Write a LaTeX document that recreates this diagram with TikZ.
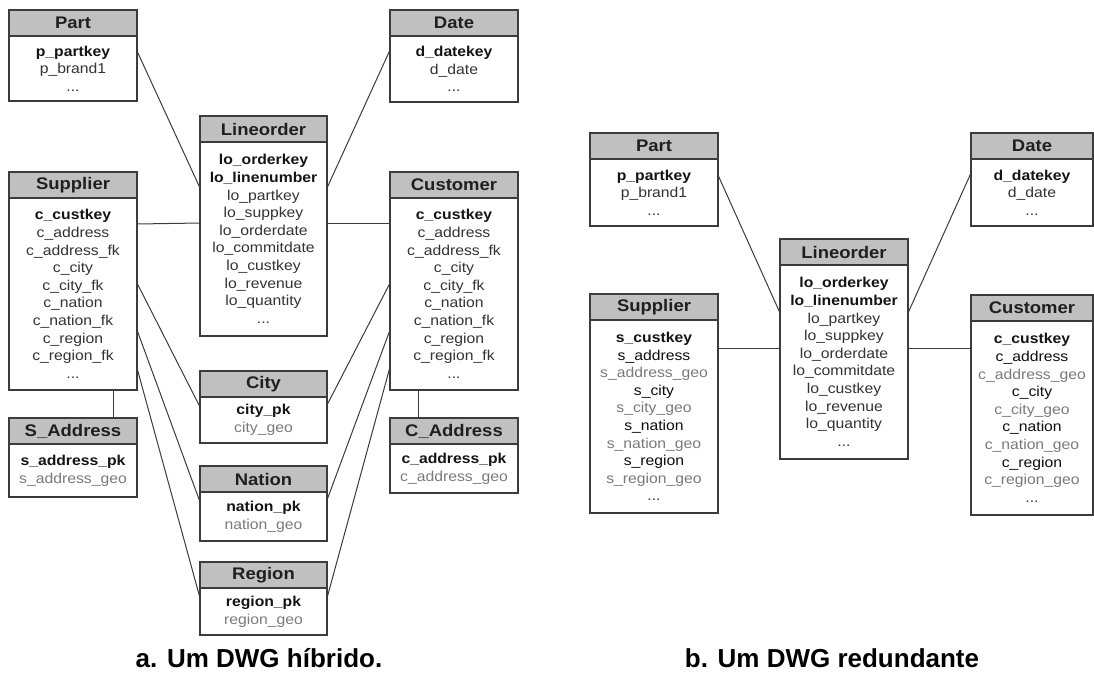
\documentclass[tikz,border=0pt]{standalone}
\usepackage{fontspec}
\setmainfont[FakeStretch=1.1]{Liberation Sans}
\newfontfamily\capfont{Liberation Sans}
\usetikzlibrary{positioning}
\definecolor{hdrgray}{RGB}{192,192,192}
\definecolor{edgegray}{RGB}{60,60,60}
\newcommand\keyf[1]{{\bfseries\color{black!92}#1}}
\newcommand\geof[1]{{\color{black!52}#1}}
\newcommand\nrmf[1]{{\color{black!95}#1}}
\tikzset{
  tblhead/.style={draw=edgegray, fill=hdrgray, line width=1.1pt, outer sep=0pt,
    minimum width=128pt, minimum height=26pt, inner sep=0pt, anchor=north west,
    text=black!88, font=\fontsize{16.8}{18}\selectfont\bfseries},
  tblbody/.style={draw=edgegray, fill=white, line width=1.1pt, outer sep=0pt,
    minimum width=128pt, inner sep=0pt, align=center, below=0pt of #1,
    text=black!80, font=\fontsize{14.3}{17.6}\selectfont},
  link/.style={draw=edgegray, line width=1pt},
  caption/.style={anchor=base, text=black, font=\capfont\fontsize{26}{28}\selectfont\bfseries}
}
\begin{document}
\begin{tikzpicture}[x=1pt,y=-1pt]
			%%%%% START %%%%%
			\useasboundingbox (0,0) rectangle (1094,673);
			
			%%% a. hybrid
			\node[tblhead] (lpart) at (9,10) {Part};
			\node[tblbody=lpart, minimum height=65pt] (lpartb) {\keyf{p\_partkey}\\p\_brand1\\...};
			
			\node[tblhead] (ldate) at (390,10) {Date};
			\node[tblbody=ldate, minimum height=66pt] (ldateb) {\keyf{d\_datekey}\\d\_date\\...};
			
			\node[tblhead, minimum width=127pt] (lline) at (200,116) {Lineorder};
			\node[tblbody=lline, minimum width=127pt, minimum height=194pt] (llineb) {\keyf{lo\_orderkey}\\\keyf{lo\_linenumber}\\lo\_partkey\\lo\_suppkey\\lo\_orderdate\\lo\_commitdate\\lo\_custkey\\lo\_revenue\\lo\_quantity\\...};
			
			\node[tblhead] (lsup) at (9,172) {Supplier};
			\node[tblbody=lsup, minimum height=192pt] (lsupb) {\keyf{c\_custkey}\\c\_address\\c\_address\_fk\\c\_city\\c\_city\_fk\\c\_nation\\c\_nation\_fk\\c\_region\\c\_region\_fk\\...};
			
			\node[tblhead] (lcust) at (390,172) {Customer};
			\node[tblbody=lcust, minimum height=192pt] (lcustb) {\keyf{c\_custkey}\\c\_address\\c\_address\_fk\\c\_city\\c\_city\_fk\\c\_nation\\c\_nation\_fk\\c\_region\\c\_region\_fk\\...};
			
			\node[tblhead, minimum width=127pt] (lcity) at (200,371) {City};
			\node[tblbody=lcity, minimum width=127pt, minimum height=46pt] (lcityb) {\keyf{city\_pk}\\\geof{city\_geo}};
			
			\node[tblhead, minimum width=127pt] (lnat) at (200,466) {Nation};
			\node[tblbody=lnat, minimum width=127pt, minimum height=49pt] (lnatb) {\keyf{nation\_pk}\\\geof{nation\_geo}};
			
			\node[tblhead, minimum width=127pt] (lreg) at (200,562) {Region};
			\node[tblbody=lreg, minimum width=127pt, minimum height=47pt] (lregb) {\keyf{region\_pk}\\\geof{region\_geo}};
			
			\node[tblhead] (lsaddr) at (9,418) {S\_Address};
			\node[tblbody=lsaddr, minimum height=53pt] (lsaddrb) {\keyf{s\_address\_pk}\\\geof{s\_address\_geo}};
			
			\node[tblhead] (lcaddr) at (390,418) {C\_Address};
			\node[tblbody=lcaddr, minimum height=49pt] (lcaddrb) {\keyf{c\_address\_pk}\\\geof{c\_address\_geo}};
			
			\draw[link] ([yshift=-15pt]lpartb.north east) -- ([yshift=-46pt]llineb.north west);
			\draw[link] ([yshift=-14pt]ldateb.north west) -- ([yshift=-46pt]llineb.north east);
			\draw[link] ([yshift=-26pt]lsupb.north east) -- ([yshift=-81pt]llineb.north west);
			\draw[link] ([yshift=-81pt]llineb.north east) -- ([yshift=-25pt]lcustb.north west);
			
			\draw[link] ([yshift=-85pt]lsupb.north east) -- ([yshift=-10pt]lcityb.north west);
			\draw[link] ([yshift=-132pt]lsupb.north east) -- ([yshift=-10pt]lnatb.north west);
			\draw[link] ([yshift=-170pt]lsupb.north east) -- ([yshift=-10pt]lregb.north west);
			\draw[link] ([yshift=-85pt]lcustb.north west) -- ([yshift=-8pt]lcityb.north east);
			\draw[link] ([yshift=-132pt]lcustb.north west) -- ([yshift=-8pt]lnatb.north east);
			\draw[link] ([yshift=-169pt]lcustb.north west) -- ([yshift=-10pt]lregb.north east);
			
			\draw[link] ([xshift=-24pt]lsupb.south east) -- ([xshift=-24pt]lsaddr.north east);
			\draw[link] ([xshift=28pt]lcustb.south west) -- ([xshift=28pt]lcaddr.north west);
			
			%%% b. redundant
			\node[tblhead] (rpart) at (590,133) {Part};
			\node[tblbody=rpart, minimum height=67pt] (rpartb) {\keyf{p\_partkey}\\p\_brand1\\...};
			
			\node[tblhead, minimum width=122pt] (rdate) at (971,133) {Date};
			\node[tblbody=rdate, minimum width=122pt, minimum height=67pt] (rdateb) {\keyf{d\_datekey}\\d\_date\\...};
			
			\node[tblhead] (rline) at (780,239) {Lineorder};
			\node[tblbody=rline, minimum height=194pt] (rlineb) {\keyf{lo\_orderkey}\\\keyf{lo\_linenumber}\\lo\_partkey\\lo\_suppkey\\lo\_orderdate\\lo\_commitdate\\lo\_custkey\\lo\_revenue\\lo\_quantity\\...};
			
			\node[tblhead] (rsup) at (590,294) {Supplier};
			\node[tblbody=rsup, minimum height=193pt] (rsupb) {\keyf{s\_custkey}\\\nrmf{s\_address}\\\geof{s\_address\_geo}\\\nrmf{s\_city}\\\geof{s\_city\_geo}\\\nrmf{s\_nation}\\\geof{s\_nation\_geo}\\\nrmf{s\_region}\\\geof{s\_region\_geo}\\...};
			
			\node[tblhead, minimum width=122pt] (rcust) at (971,295) {Customer};
			\node[tblbody=rcust, minimum width=122pt, minimum height=194pt] (rcustb) {\keyf{c\_custkey}\\\nrmf{c\_address}\\\geof{c\_address\_geo}\\\nrmf{c\_city}\\\geof{c\_city\_geo}\\\nrmf{c\_nation}\\\geof{c\_nation\_geo}\\\nrmf{c\_region}\\\geof{c\_region\_geo}\\...};
			
			\draw[link] ([yshift=-16pt]rpartb.north east) -- ([yshift=-48pt]rlineb.north west);
			\draw[link] ([yshift=-14pt]rdateb.north west) -- ([yshift=-48pt]rlineb.north east);
			\draw[link] ([yshift=-28pt]rsupb.north east) -- ([yshift=-83pt]rlineb.north west);
			\draw[link] ([yshift=-83pt]rlineb.north east) -- ([yshift=-27pt]rcustb.north west);
			
			%%% captions
			\node[caption] (capa) at (259,667) {a. Um DWG híbrido.};
			\node[caption] (capb) at (832,667) {b. Um DWG redundante};
			
			%%%%% END %%%%%
\end{tikzpicture}
\end{document}
